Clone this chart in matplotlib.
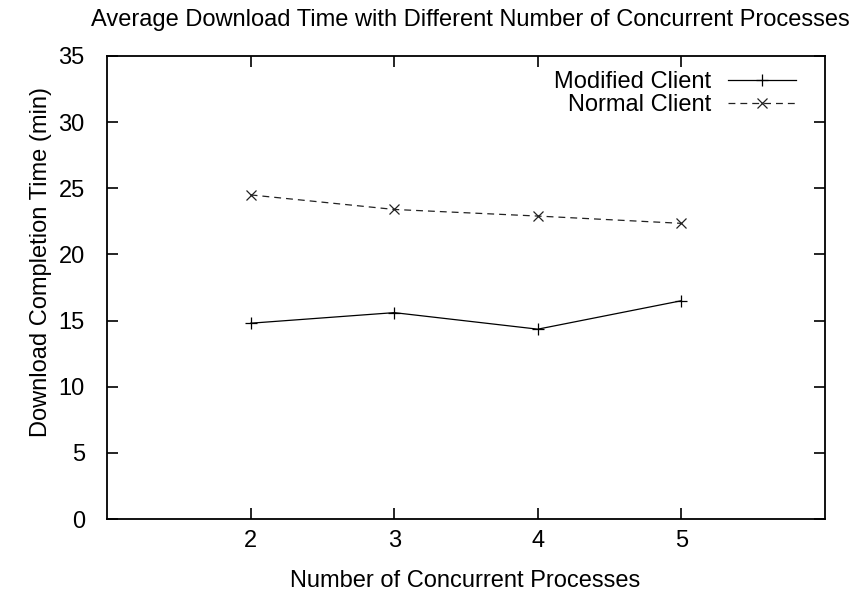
import matplotlib
matplotlib.use("Agg")
import matplotlib.pyplot as plt

processes = [2, 3, 4, 5]
modified = [14.8, 15.6, 14.35, 16.5]
normal = [24.5, 23.4, 22.9, 22.35]
yticks = [0, 5, 10, 15, 20, 25, 30, 35]
xticks = [2, 3, 4, 5]

plt.rcParams['font.family'] = ['Liberation Sans', 'DejaVu Sans']
fs = 17

W, H = 856, 591
fig = plt.figure(figsize=(W/100, H/100), dpi=100)
ax = fig.add_axes([107/W, 1-519/H, (825-107)/W, (519-56)/H])

ax.plot(processes, modified, color='black', lw=0.9, marker='+', ms=8, mew=0.9,
        label='Modified Client')
ax.plot(processes, normal, color='#222222', lw=0.9, ls=(0, (5.5, 4)), marker='x', ms=7, mew=0.9,
        label='Normal Client')

ax.set_xlim(1, 6)
ax.set_ylim(0, 35)
ax.set_xticks(xticks)
ax.set_yticks(yticks)
ax.tick_params(direction='in', length=8, width=1.2, top=True, right=True,
               labelsize=fs)
ax.tick_params(axis='y', pad=16)
ax.tick_params(axis='x', pad=8)
for s in ax.spines.values():
    s.set_linewidth(1.3)

fig.text(465/W, 1-587/H, 'Number of Concurrent Processes', ha='center', va='baseline', fontsize=fs)
fig.text(47/W, 1-262/H, 'Download Completion Time (min)', rotation=90, ha='center',
         va='baseline', fontsize=fs, rotation_mode='anchor')
fig.text(850/W, 1-26/H, 'Average Download Time with Different Number of Concurrent Processes',
         ha='right', va='baseline', fontsize=fs)

leg = ax.legend(loc='upper right', bbox_to_anchor=(796/W, 1-71/H), bbox_transform=fig.transFigure,
                frameon=False, markerfirst=False, fontsize=fs,
                handlelength=2.9, handletextpad=0.68, labelspacing=0.05,
                borderpad=0, borderaxespad=0)

fig.savefig('out.png', dpi=100)
